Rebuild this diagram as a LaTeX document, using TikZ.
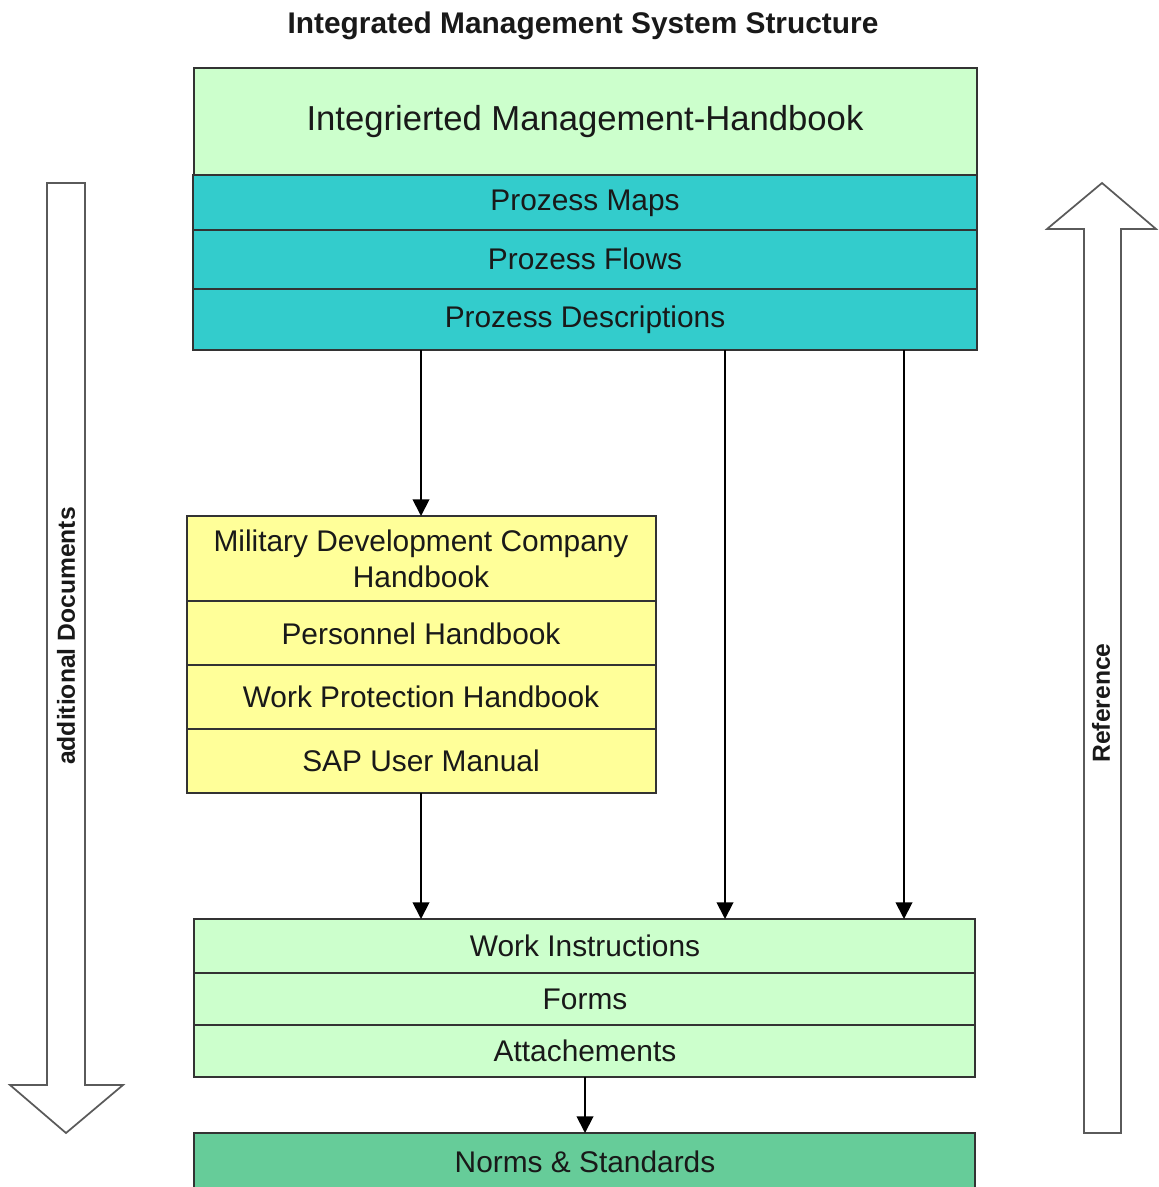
\documentclass[tikz,border=0pt]{standalone}
\usepackage{fontspec}
\setmainfont{Liberation Sans}
\usetikzlibrary{fit,arrows.meta}
\definecolor{lgreen}{HTML}{CCFFCC}
\definecolor{teal2}{HTML}{33CCCC}
\definecolor{lyellow}{HTML}{FFFF99}
\definecolor{mgreen}{HTML}{66CC99}
\definecolor{bord}{HTML}{333333}
\definecolor{outl}{HTML}{5A5A5A}
\tikzset{
  box/.style={draw=bord, line width=1.1pt, inner sep=0pt},
  boxtext/.style={font=\fontsize{22.4}{27}\selectfont, text=black!90, align=center},
  conn/.style={draw=black, line width=1.4pt, -{Triangle[width=12.5pt,length=12.5pt]}},
  bigarrow/.style={draw=outl, line width=1.3pt, fill=white, line join=miter},
  sidelabel/.style={font=\bfseries\fontsize{18.5}{22}\selectfont, rotate=90, text=black!90}
}
\begin{document}
\begin{tikzpicture}[x=0.75pt,y=-0.75pt]
\useasboundingbox (0,0) rectangle (1158,1187);
% title
\node[font=\bfseries\fontsize{22.4}{26}\selectfont, text=black!90] (title) at (583,26) {Integrated Management System Structure};
% top stack
\node[box, fill=lgreen, fit={(194,68) (977,175)}] (ih) {};
\node[boxtext, font=\fontsize{26}{30}\selectfont] (iht) at (585,122) {Integrierted Management-Handbook};
\node[box, fill=teal2, fit={(193,175) (977,230)}] (pm) {};
\node[boxtext] (pmt) at (585,203) {Prozess Maps};
\node[box, fill=teal2, fit={(193,230) (977,289)}] (pf) {};
\node[boxtext] (pft) at (585,259) {Prozess Flows};
\node[box, fill=teal2, fit={(193,289) (977,350)}] (pd) {};
\node[boxtext] (pdt) at (585,320) {Prozess Descriptions};
% yellow stack
\node[box, fill=lyellow, fit={(187,516) (656,601)}] (mdc) {};
\node[boxtext] (mdct) at (421,559) {Military Development Company\\Handbook};
\node[box, fill=lyellow, fit={(187,601) (656,665)}] (ph) {};
\node[boxtext] (pht) at (421,634) {Personnel Handbook};
\node[box, fill=lyellow, fit={(187,665) (656,729)}] (wp) {};
\node[boxtext] (wpt) at (421,697) {Work Protection Handbook};
\node[box, fill=lyellow, fit={(187,729) (656,793)}] (sap) {};
\node[boxtext] (sapt) at (421,761) {SAP User Manual};
% bottom stack
\node[box, fill=lgreen, fit={(194,919) (975,973)}] (wi) {};
\node[boxtext] (wit) at (585,946) {Work Instructions};
\node[box, fill=lgreen, fit={(194,973) (975,1025)}] (fo) {};
\node[boxtext] (fot) at (585,999) {Forms};
\node[box, fill=lgreen, fit={(194,1025) (975,1077)}] (at) {};
\node[boxtext] (att) at (585,1051) {Attachements};
\node[box, fill=mgreen, fit={(194,1133) (975,1195)}] (ns) {};
\node[boxtext] (nst) at (585,1162) {Norms \& Standards};
% connectors
\coordinate (c1s) at (421,350);
\coordinate (c1e) at (421,516);
\coordinate (c2s) at (421,793);
\coordinate (c2e) at (421,919);
\coordinate (c3s) at (725,350);
\coordinate (c3e) at (725,919);
\coordinate (c4s) at (904,350);
\coordinate (c4e) at (904,919);
\coordinate (c5s) at (585,1077);
\coordinate (c5e) at (585,1133);
\draw[conn] (c1s) -- (c1e);
\draw[conn] (c2s) -- (c2e);
\draw[conn] (c3s) -- (c3e);
\draw[conn] (c4s) -- (c4e);
\draw[conn] (c5s) -- (c5e);
% big outline arrows
\draw[bigarrow] (47,183) -- (85,183) -- (85,1085) -- (123,1085) -- (66,1133) -- (10,1085) -- (47,1085) -- cycle;
\node[sidelabel] (addl) at (66,636) {additional Documents};
\draw[bigarrow] (1084,1133) -- (1121,1133) -- (1121,229) -- (1156,229) -- (1102,183) -- (1047,229) -- (1084,229) -- cycle;
\node[sidelabel] (ref) at (1101,703) {Reference};
\end{tikzpicture}
\end{document}
